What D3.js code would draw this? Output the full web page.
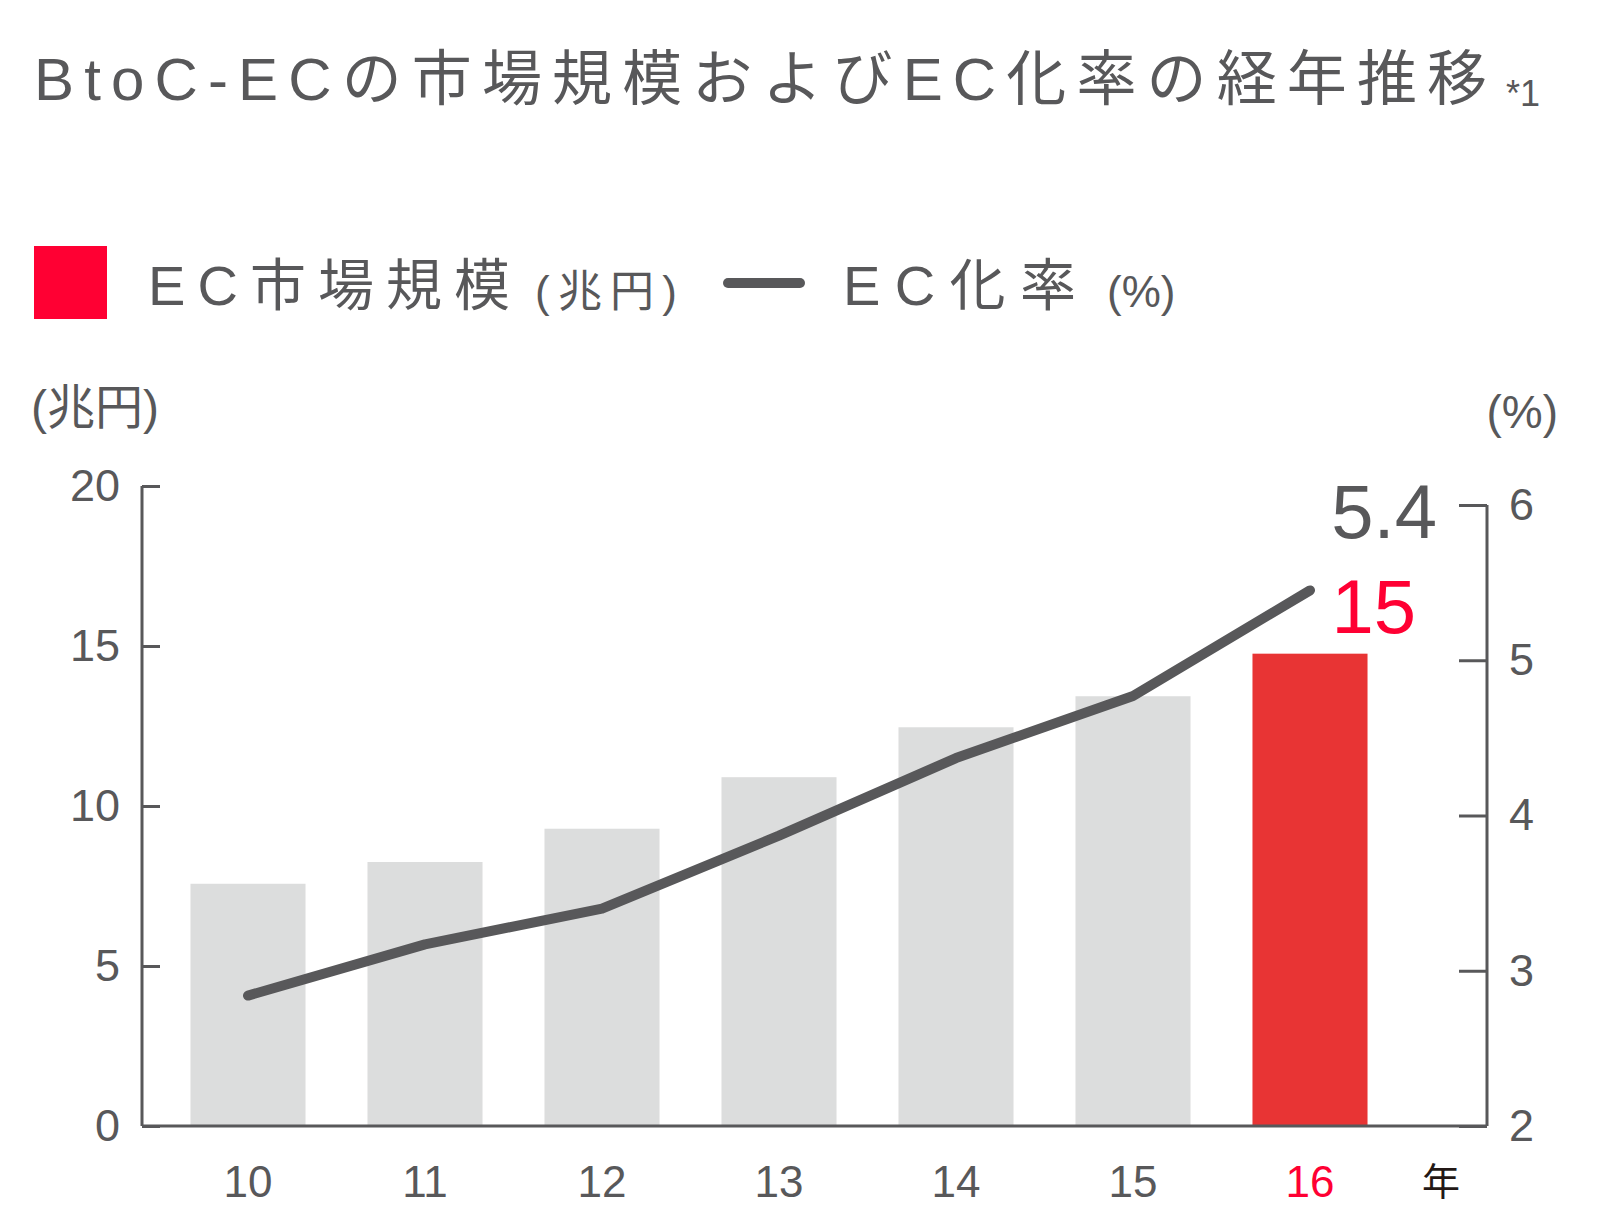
<!DOCTYPE html><html><head><meta charset="utf-8">
<script src="https://cdn.jsdelivr.net/npm/d3@7"></script>
<style>body{margin:0;background:#fff}text{font-family:"Liberation Sans","Noto Sans CJK JP",sans-serif}</style></head><body>
<svg id="c" width="1620" height="1231"></svg>
<script>
const years=["10","11","12","13","14","15","16"];
const marketSize=[7.57,8.25,9.29,10.9,12.46,13.43,14.76];
const ecRate=[2.84,3.17,3.40,3.87,4.37,4.77,5.45];
const leftTicks=[0,5,10,15,20];
const rightTicks=[2,3,4,5,6];
const grey="#58585a",red="#ff0033",barRed="#e83434",barGrey="#dcdddd";
const svg=d3.select("#c");
const L=142,R=1487,B=1126;
const x=d3.scaleBand().domain(years).range([L+(248-L)-88.5,L+(248-L)-88.5+177*7]).paddingInner(0.35).paddingOuter(0.175);
const yL=d3.scaleLinear().domain([0,20]).range([B,486]);
const yR=d3.scaleLinear().domain([2,6]).range([B,505]);
svg.append("text").attr("x",34).attr("y",100).attr("fill",grey).attr("font-size",60).attr("textLength",1453).attr("lengthAdjust","spacing").text("BtoC-ECの市場規模およびEC化率の経年推移");
svg.append("text").attr("x",1506).attr("y",106).attr("fill",grey).attr("font-size",36).text("*1");
svg.append("rect").attr("x",34).attr("y",246).attr("width",73).attr("height",73).attr("fill",red);
svg.append("text").attr("x",148).attr("y",305).attr("fill",grey).attr("font-size",56).attr("textLength",362).attr("lengthAdjust","spacing").text("EC市場規模");
svg.append("text").attr("x",535).attr("y",307).attr("fill",grey).attr("font-size",44).attr("textLength",142).attr("lengthAdjust","spacing").text("(兆円)");
svg.append("line").attr("x1",728).attr("x2",800).attr("y1",283).attr("y2",283).attr("stroke",grey).attr("stroke-width",10).attr("stroke-linecap","round");
svg.append("text").attr("x",843).attr("y",305).attr("fill",grey).attr("font-size",56).attr("textLength",233).attr("lengthAdjust","spacing").text("EC化率");
svg.append("text").attr("x",1107).attr("y",307).attr("fill",grey).attr("font-size",44).text("(%)");
svg.append("text").attr("x",31).attr("y",424).attr("fill",grey).attr("font-size",48).text("(兆円)");
svg.append("text").attr("x",1558).attr("y",428).attr("text-anchor","end").attr("fill",grey).attr("font-size",46).text("(%)");
svg.selectAll(".bar").data(years).join("rect").attr("x",d=>x(d)).attr("width",x.bandwidth())
 .attr("y",(d,i)=>yL(marketSize[i])).attr("height",(d,i)=>B-yL(marketSize[i]))
 .attr("fill",(d,i)=>i===6?barRed:barGrey);
const la=svg.append("g").attr("transform",`translate(${L},0)`).call(d3.axisLeft(yL).tickValues(leftTicks).tickSize(-18).tickPadding(22));
const ra=svg.append("g").attr("transform",`translate(${R},0)`).call(d3.axisRight(yR).tickValues(rightTicks).tickFormat(d3.format("d")).tickSize(-28).tickPadding(22));
[la,ra].forEach(g=>{g.select(".domain").attr("stroke",grey).attr("stroke-width",3);
 g.selectAll(".tick line").attr("stroke",grey).attr("stroke-width",3);
 g.selectAll(".tick text").attr("fill",grey).attr("font-size",45).attr("font-family","Liberation Sans");});
la.select(".domain").attr("d",`M0,${yL(20)}V${B}`);
ra.select(".domain").attr("d",`M0,${yR(6)}V${B}`);
svg.append("line").attr("x1",L).attr("x2",R).attr("y1",B).attr("y2",B).attr("stroke",grey).attr("stroke-width",3);
svg.selectAll(".xl").data(years).join("text").attr("x",d=>x(d)+x.bandwidth()/2).attr("y",1197)
 .attr("text-anchor","middle").attr("font-size",44).attr("fill",(d,i)=>i===6?red:grey).text(d=>d);
svg.append("text").attr("x",1441).attr("y",1195).attr("text-anchor","middle").attr("font-size",38).attr("fill","#231815").text("年");
const line=d3.line().x((d,i)=>x(years[i])+x.bandwidth()/2).y(d=>yR(d));
svg.append("path").datum(ecRate).attr("d",line).attr("fill","none").attr("stroke",grey).attr("stroke-width",10).attr("stroke-linecap","round").attr("stroke-linejoin","round");
svg.append("text").attr("x",1437).attr("y",538).attr("text-anchor","end").attr("font-size",76).attr("fill",grey).text("5.4");
svg.append("text").attr("x",1416).attr("y",633).attr("text-anchor","end").attr("font-size",76).attr("fill",red).text(Math.round(marketSize[6]));
</script></body></html>
